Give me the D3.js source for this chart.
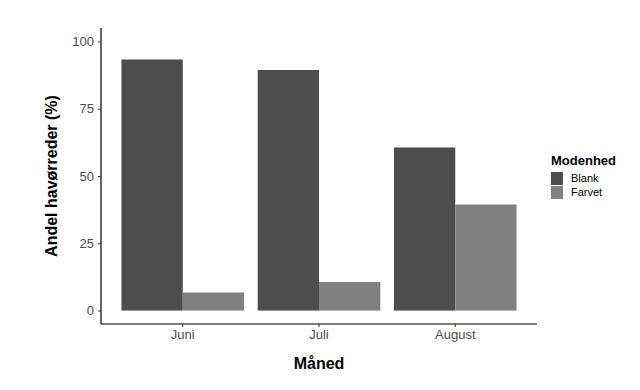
<!DOCTYPE html>
<html>
<head>
<meta charset="utf-8">
<script src="https://cdn.jsdelivr.net/npm/d3@7"></script>
<style>
  body { margin: 0; background: #fff; }
  text { font-family: "Liberation Sans", Arial, sans-serif; }
</style>
</head>
<body>
<div id="chart"></div>
<script>
// data
var months = ['Juni', 'Juli', 'August'];
var groups = ['Blank', 'Farvet'];
var blank = [93.3, 89.4, 60.6];
var farvet = [6.7, 10.6, 39.4];
var yTicks = [0, 25, 50, 75, 100];
var colors = ['#4d4d4d', '#808080'];

var width = 640, height = 390;
var plotLeft = 101, plotRight = 537, plotTop = 28, plotBottom = 324;

var svg = d3.select('#chart')
  .append('svg')
  .attr('width', width)
  .attr('height', height);

var x = d3.scaleBand().domain(months).range([plotLeft, plotRight])
  .paddingInner(0.1).paddingOuter(0.15);
var xSub = d3.scaleBand().domain(groups).range([0, x.bandwidth()]);
var y = d3.scaleLinear().domain([-5, 105]).range([plotBottom, plotTop]);
var color = d3.scaleOrdinal().domain(groups).range(colors);

var rows = months.map(function (m, i) {
  return { month: m, values: [{ g: 'Blank', v: blank[i] }, { g: 'Farvet', v: farvet[i] }] };
});

// bars
var grp = svg.selectAll('.month')
  .data(rows)
  .enter()
  .append('g')
  .attr('transform', function (d) { return 'translate(' + x(d.month) + ',0)'; });

grp.selectAll('rect')
  .data(function (d) { return d.values; })
  .enter()
  .append('rect')
  .attr('x', function (d) { return xSub(d.g); })
  .attr('width', xSub.bandwidth())
  .attr('y', function (d) { return y(d.v); })
  .attr('height', function (d) { return y(0) - y(d.v); })
  .attr('fill', function (d) { return color(d.g); });

// axes
var yAxis = svg.append('g')
  .attr('transform', 'translate(' + plotLeft + ',0)')
  .call(d3.axisLeft(y).tickValues(yTicks).tickSize(3).tickPadding(4));
var xAxis = svg.append('g')
  .attr('transform', 'translate(0,' + plotBottom + ')')
  .call(d3.axisBottom(x).tickSize(3).tickPadding(3).tickSizeOuter(0));

[yAxis, xAxis].forEach(function (a) {
  a.select('.domain').attr('stroke', '#000').attr('stroke-width', 1.2);
  a.selectAll('.tick line').attr('stroke', '#333');
  a.selectAll('.tick text').attr('fill', '#4d4d4d').style('font-size', '13px');
});
yAxis.select('.domain').attr('d', 'M0,' + plotTop + 'V' + plotBottom);
xAxis.select('.domain').attr('d', 'M' + plotLeft + ',0H' + plotRight);

// axis titles
svg.append('text')
  .attr('x', (plotLeft + plotRight) / 2)
  .attr('y', 369)
  .attr('text-anchor', 'middle')
  .style('font-size', '16px')
  .style('font-weight', 'bold')
  .text('Måned');

svg.append('text')
  .attr('transform', 'translate(57,' + (plotTop + plotBottom) / 2 + ') rotate(-90)')
  .attr('text-anchor', 'middle')
  .style('font-size', '16px')
  .style('font-weight', 'bold')
  .text('Andel havørreder (%)');

// legend
var legend = svg.append('g').attr('transform', 'translate(551,0)');
legend.append('text')
  .attr('x', 0).attr('y', 165)
  .style('font-size', '13px')
  .style('font-weight', 'bold')
  .text('Modenhed');

var item = legend.selectAll('.item')
  .data(groups)
  .enter()
  .append('g')
  .attr('transform', function (d, i) { return 'translate(0,' + (172 + i * 14) + ')'; });
item.append('rect')
  .attr('width', 12).attr('height', 13)
  .attr('fill', function (d) { return color(d); });
item.append('text')
  .attr('x', 20).attr('y', 6.5)
  .attr('dy', '0.35em')
  .style('font-size', '11px')
  .text(function (d) { return d; });
</script>
</body>
</html>
